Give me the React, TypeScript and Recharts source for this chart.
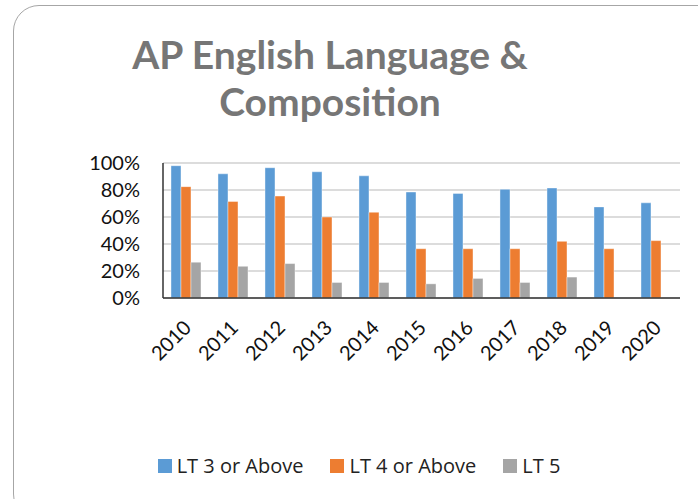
import React from "react";
import { BarChart, Bar, XAxis, YAxis, CartesianGrid } from "recharts";

const years = ["2010", "2011", "2012", "2013", "2014", "2015", "2016", "2017", "2018", "2019", "2020"];
const lt3 = [98, 92, 96.5, 93.5, 90.5, 78.5, 77.5, 80.5, 81.5, 67.5, 70.5];
const lt4 = [82.5, 71.5, 75.5, 60, 63.5, 36.5, 36.5, 36.5, 42, 36.5, 42.5];
const lt5: (number | null)[] = [26.5, 23.5, 25.5, 11.5, 11.5, 10.5, 14.5, 11.5, 15.5, null, null];
const yTicks = [0, 20, 40, 60, 80, 100];

const seriesNames = ["LT 3 or Above", "LT 4 or Above", "LT 5"];
const colors = ["#5B9BD5", "#ED7D31", "#A5A5A5"];

const data = years.map((y, i) => ({ year: y, lt3: lt3[i], lt4: lt4[i], lt5: lt5[i] }));

const XTick = (props: any) => {
  const { x, y, payload } = props;
  return (
    <g transform={`translate(${x + 1},${y + 18})`}>
      <text
        textAnchor="end"
        transform="rotate(-45)"
        dy="0.35em"
        fontSize={20}
        fontFamily="Lato, 'Open Sans', sans-serif"
        fill="#111"
      >
        {payload.value}
      </text>
    </g>
  );
};

const LegendBox = () => (
  <div
    style={{
      position: "absolute",
      top: 452,
      left: 0,
      width: 698,
      display: "flex",
      justifyContent: "center",
      alignItems: "center",
      paddingLeft: 20,
      boxSizing: "border-box",
      fontFamily: "'Open Sans', sans-serif",
      fontSize: 20,
      lineHeight: "28px",
      color: "#222",
    }}
  >
    {seriesNames.map((n, i) => (
      <div key={n} style={{ display: "flex", alignItems: "center", marginRight: i < 2 ? 27 : 0 }}>
        <span style={{ width: 14, height: 14, background: colors[i], display: "inline-block", marginRight: 5 }} />
        <span>{n}</span>
      </div>
    ))}
  </div>
);

export default function App() {
  return (
    <div
      style={{
        position: "fixed",
        left: 0,
        top: 0,
        width: 698,
        height: 499,
        overflow: "hidden",
        background: "#fff",
      }}
    >
      <div
        style={{
          position: "absolute",
          left: 13,
          top: 5,
          width: 720,
          height: 515,
          border: "1.5px solid #a6a6a6",
          borderRadius: 26,
          boxSizing: "border-box",
        }}
      />
      <div
        style={{
          position: "absolute",
          left: 80,
          width: 500,
          top: 31,
          textAlign: "center",
          fontFamily: "Lato, 'Open Sans', sans-serif",
          fontWeight: 700,
          fontSize: 39,
          lineHeight: "47px",
          color: "#767676",
        }}
      >
        AP English Language &amp;
        <br />
        Composition
      </div>
      <div style={{ position: "absolute", left: 0, top: 0 }}>
        <BarChart
          width={698}
          height={499}
          data={data}
          margin={{ top: 163, right: 18, left: 0, bottom: 141 }}
          barGap={0}
          barCategoryGap="17%"
        >
          <CartesianGrid vertical={false} stroke="#d0d0d0" strokeWidth={1.5} />
          <XAxis
            dataKey="year"
            tick={<XTick />}
            tickLine={false}
            axisLine={{ stroke: "#333", strokeWidth: 1.5 }}
            interval={0}
            height={60}
          />
          <YAxis
            width={163}
            domain={[0, 100]}
            ticks={yTicks}
            tickFormatter={(v: number) => `${v}%`}
            tickLine={false}
            tickSize={0}
            tickMargin={23}
            axisLine={{ stroke: "#333", strokeWidth: 1.5 }}
            tick={{ fontSize: 20, fill: "#111", fontFamily: "Lato, 'Open Sans', sans-serif" }}
            interval={0}
          />
          <Bar dataKey="lt3" name={seriesNames[0]} fill={colors[0]} stroke="#fff" strokeOpacity={0.4} isAnimationActive={false} />
          <Bar dataKey="lt4" name={seriesNames[1]} fill={colors[1]} stroke="#fff" strokeOpacity={0.4} isAnimationActive={false} />
          <Bar dataKey="lt5" name={seriesNames[2]} fill={colors[2]} stroke="#fff" strokeOpacity={0.4} isAnimationActive={false} />
        </BarChart>
      </div>
      <LegendBox />
    </div>
  );
}
